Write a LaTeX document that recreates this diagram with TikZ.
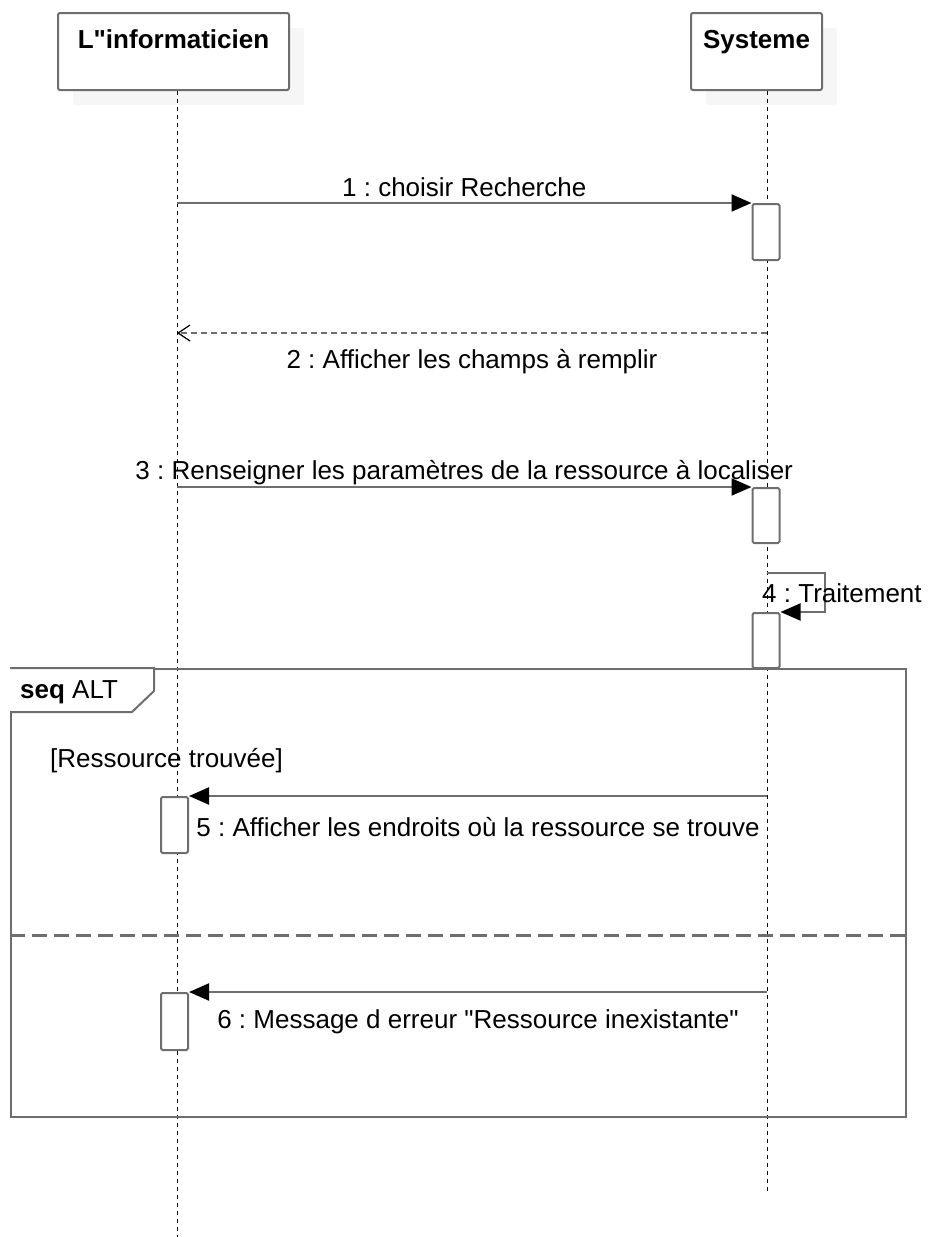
\documentclass[tikz,border=0pt]{standalone}
\usepackage{fontspec}
\setmainfont{Liberation Sans}[Ligatures=TeXOff]
\usetikzlibrary{arrows.meta,shadows}
\definecolor{umlgray}{HTML}{6E6E6E}
\definecolor{shadowgray}{HTML}{EEEEEE}
\frenchspacing
\begin{document}
\begin{tikzpicture}[x=1pt, y=-1pt,
  actor/.style={draw=umlgray, line width=2pt, fill=white, rounded corners=2pt, minimum width=231pt, minimum height=77pt, inner xsep=0pt, inner ysep=16pt, text height=19pt, text depth=26pt, font=\bfseries, drop shadow={shadow xshift=15pt, shadow yshift=-15pt, fill=shadowgray, draw=none}},
  lifeline/.style={black, line width=1pt, dash pattern=on 4pt off 4pt},
  activation/.style={draw=umlgray, line width=2pt, fill=white, rounded corners=1.5pt, minimum width=27pt, inner sep=0pt},
  msg/.style={draw=umlgray, line width=2pt, -{Triangle[length=20pt, width=17pt, black]}},
  ret/.style={draw=umlgray, line width=1.6pt, dash pattern=on 6pt off 4pt, -{Straight Barb[length=12pt, width=16pt, black, line width=1.2pt]}},
  lbl/.style={anchor=base, inner sep=0pt},
  frame/.style={draw=umlgray, line width=2pt, minimum width=895pt, minimum height=448pt, inner sep=0pt},
  sepline/.style={draw=umlgray, line width=3pt, dash pattern=on 15pt off 7pt}]
\fontsize{26}{31}\selectfont
\useasboundingbox (0,0) rectangle (930,1237);
\node[actor] (inf) at (173.5,51.5) {L"informaticien};
\node[actor, minimum width=131pt] (sys) at (756.5,51.5) {Systeme};
\coordinate (infend) at (177,1237);
\coordinate (sysend) at (767,1192);
\draw[lifeline] (inf.south -| infend) -- (infend);
\draw[lifeline] (sys.south -| sysend) -- (sysend);
\node[frame] (alt) at (458.5,893) {};
\draw[draw=umlgray, line width=2pt, fill=white] (alt.north west) -- ++(144,0) -- ++(0,23) -- ++(-22,21) -- ++(-122,0);
\node[lbl, anchor=base west] (altname) at (20,698) {\textbf{seq} ALT};
\node[lbl, anchor=base west] (guard) at (50,767) {[Ressource trouvée]};
\coordinate (sepl) at (alt.west |- 0,935);
\draw[sepline] (sepl) -- (sepl -| alt.east);
\node[activation, minimum height=56pt] (act1) at (766,232) {};
\node[activation, minimum height=55pt] (act2) at (766,515.5) {};
\node[activation, minimum height=55pt] (act3) at (766,640.5) {};
\node[activation, minimum height=56pt] (act4) at (174.5,825) {};
\node[activation, minimum height=57pt] (act5) at (174.5,1021.5) {};
\draw[msg] (act1.north west -| infend) -- (act1.north west) node[lbl, midway, yshift=7pt] {1 : choisir Recherche};
\coordinate (m2) at (767,333);
\draw[ret] (m2) -- (m2 -| infend) node[lbl, midway, yshift=-35pt] {2 : Afficher les champs à remplir};
\draw[msg] (act2.north west -| infend) -- (act2.north west) node[lbl, midway, yshift=8pt] {3 : Renseigner les paramètres de la ressource à localiser};
\coordinate (m4s) at (767,573);
\coordinate (m4c) at (825,573);
\draw[msg] (m4s) -- (m4c) |- (act3.north east);
\node[lbl, anchor=base west] (t4) at (762,602) {4 : Traitement};
\draw[msg] (act4.north east -| sysend) -- (act4.north east) node[lbl, midway, yshift=-40pt] {5 : Afficher les endroits où la ressource se trouve};
\draw[msg] (act5.north east -| sysend) -- (act5.north east) node[lbl, midway, yshift=-36pt] {6 : Message d erreur "Ressource inexistante"};
\end{tikzpicture}
\end{document}
